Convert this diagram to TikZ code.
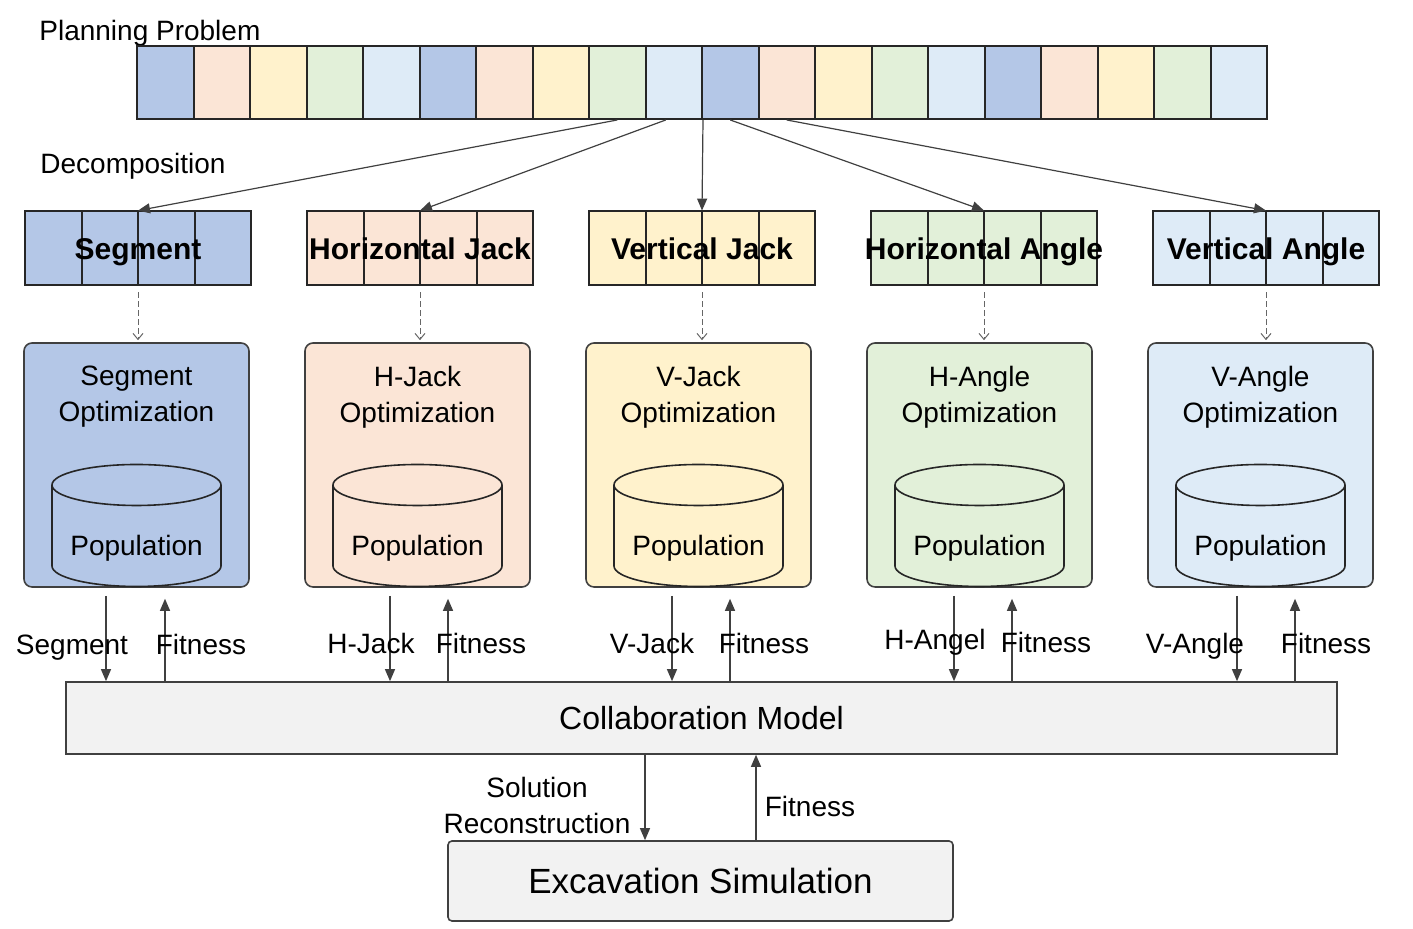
\documentclass[tikz,border=0pt]{standalone}
\usepackage{fontspec}
\setmainfont{Liberation Sans}
\usetikzlibrary{positioning}
\usetikzlibrary{arrows.meta}

\definecolor{segblue}{HTML}{B4C7E7}
\definecolor{hjpeach}{HTML}{FBE5D6}
\definecolor{vjyellow}{HTML}{FFF2CC}
\definecolor{hagreen}{HTML}{E2F0D9}
\definecolor{vablue}{HTML}{DEEBF7}
\definecolor{panelgray}{HTML}{F2F2F2}
\definecolor{linegray}{HTML}{404040}
\colorlet{gene0}{segblue}
\colorlet{gene1}{hjpeach}
\colorlet{gene2}{vjyellow}
\colorlet{gene3}{hagreen}
\colorlet{gene4}{vablue}

\begin{document}
\begin{tikzpicture}[
		x=0.5pt, y=0.5pt,
		gene/.style={rectangle, draw=black!85, line width=1pt, minimum width=28.25pt, minimum height=36.5pt, inner sep=0pt},
		decolabel/.style={rectangle, minimum width=113pt, minimum height=37pt, inner sep=0pt, text height=12pt, text depth=0pt, font=\fontsize{15}{18}\selectfont\bfseries},
		optbox/.style={rectangle, rounded corners=4pt, draw=linegray, line width=0.8pt, minimum width=112.5pt, minimum height=122pt},
		opttitle/.style={align=center, inner sep=0pt, font=\fontsize{14}{18}\selectfont},
		popline/.style={draw=black!85, line width=0.8pt},
		poptext/.style={inner sep=0pt, font=\fontsize{14}{17}\selectfont},
		panel/.style={rectangle, draw=linegray, line width=0.8pt, fill=panelgray},
		flowlabel/.style={inner sep=0pt, font=\fontsize{14}{18}\selectfont},
		heading/.style={anchor=west, inner sep=0pt, font=\fontsize{14}{17}\selectfont},
		flow/.style={draw=linegray, line width=0.6pt, -{Triangle[length=6pt,width=5pt]}},
		dasharrow/.style={draw=linegray!80, line width=0.5pt, dash pattern=on 3pt off 1.5pt, -{Straight Barb[length=3pt,width=5pt]}}
		]
		\useasboundingbox (0,0) rectangle (1413,929);
		
		% Planning problem strip
		\node[heading] (plan) at (39,896) {Planning Problem};
		\foreach \i in {0,...,19}{
			\pgfmathtruncatemacro\m{mod(\i,5)}
			\node[gene, fill=gene\m] (cell\i) at ({165.25+56.5*\i},846.5) {};
		}
		
		% Decomposition
		\node[heading] (decomp) at (40,763) {Decomposition};
		\foreach \k/\cx/\lbl in {0/138/Segment, 1/420/Horizontal Jack, 2/702/Vertical Jack, 3/984/Horizontal Angle, 4/1266/Vertical Angle}{
			\foreach \j in {0,...,3}
				\node[gene, minimum height=37pt, fill=gene\k] (deco\k-\j) at ({\cx-84.75+56.5*\j},681) {};
			\node[decolabel] (deco\k) at (\cx,681) {\lbl};
		}
		
		% Strip to decomposition
		\draw[flow] (cell8.south) -- (deco0.north);
		\draw[flow] ([xshift=-4pt]cell9.south) -- (deco1.north);
		\draw[flow] (cell9.south east) -- (deco2.north);
		\draw[flow] (cell10.south) -- (deco3.north);
		\draw[flow] (cell11.south) -- (deco4.north);
		
		% Optimization boxes with populations
		\foreach \k/\cx/\ttl in {0/136.5/Segment, 1/417.5/H-Jack, 2/698.5/V-Jack, 3/979.5/H-Angle, 4/1260.5/V-Angle}{
			\node[optbox, fill=gene\k] (opt\k) at (\cx,464) {};
			\node[opttitle] (title\k) at (\cx,532) {\ttl\\Optimization};
			\filldraw[popline, fill=gene\k] (\cx-84.5,444) -- (\cx-84.5,363)
				arc[start angle=180, end angle=360, x radius=84.5, y radius=20.5]
				-- (\cx+84.5,444)
				arc[start angle=0, end angle=180, x radius=84.5, y radius=20.5] -- cycle;
			\draw[popline] (\cx+84.5,444) arc[start angle=0, end angle=-180, x radius=84.5, y radius=20.5];
			\node[poptext] (pop\k) at (\cx,381) {Population};
			\draw[dasharrow, shorten <=3.5pt, shorten >=1pt] (deco\k.south) -- (deco\k.south |- opt\k.north);
		}
		
		% Collaboration model
		\node[panel, minimum width=635.5pt, minimum height=36pt, font=\fontsize{16}{19}\selectfont] (collab) at (701.5,211) {Collaboration Model};
		
		\foreach \k/\dx/\ux in {0/106/165, 1/390/448, 2/672/730, 3/954/1012, 4/1237/1295}{
			\coordinate (dn\k) at (\dx,0);
			\coordinate (up\k) at (\ux,0);
			\draw[flow, shorten <=4pt] (opt\k.south -| dn\k) -- (collab.north -| dn\k);
			\draw[flow, shorten >=5.5pt] (collab.north -| up\k) -- (opt\k.south -| up\k);
		}
		
		\node[flowlabel, anchor=base] (segout) at (72,274) {Segment};
		\node[flowlabel, anchor=base] (segfit) at (201,274) {Fitness};
		\node[flowlabel, anchor=base] (hjout) at (371,275) {H-Jack};
		\node[flowlabel, anchor=base] (hjfit) at (481,275) {Fitness};
		\node[flowlabel, anchor=base] (vjout) at (652,275) {V-Jack};
		\node[flowlabel, anchor=base] (vjfit) at (764,275) {Fitness};
		\node[flowlabel, anchor=base] (haout) at (935,279) {H-Angel};
		\node[flowlabel, anchor=base] (hafit) at (1046,276) {Fitness};
		\node[flowlabel, anchor=base] (vaout) at (1195,275) {V-Angle};
		\node[flowlabel, anchor=base] (vafit) at (1326,275) {Fitness};
		
		% Excavation simulation
		\node[panel, rounded corners=2pt, minimum width=252.5pt, minimum height=40pt, font=\fontsize{17.5}{21}\selectfont] (sim) at (700.5,48) {Excavation Simulation};
		
		\coordinate (solx) at (645,0);
		\coordinate (fitx) at (756,0);
		\draw[flow] (collab.south -| solx) -- (sim.north -| solx);
		\draw[flow] (sim.north -| fitx) -- (collab.south -| fitx);
		\node[flowlabel, align=center] (recon) at (537,123) {Solution\\Reconstruction};
		\node[flowlabel] (simfit) at (810,122) {Fitness};
		
	\end{tikzpicture}
\end{document}
